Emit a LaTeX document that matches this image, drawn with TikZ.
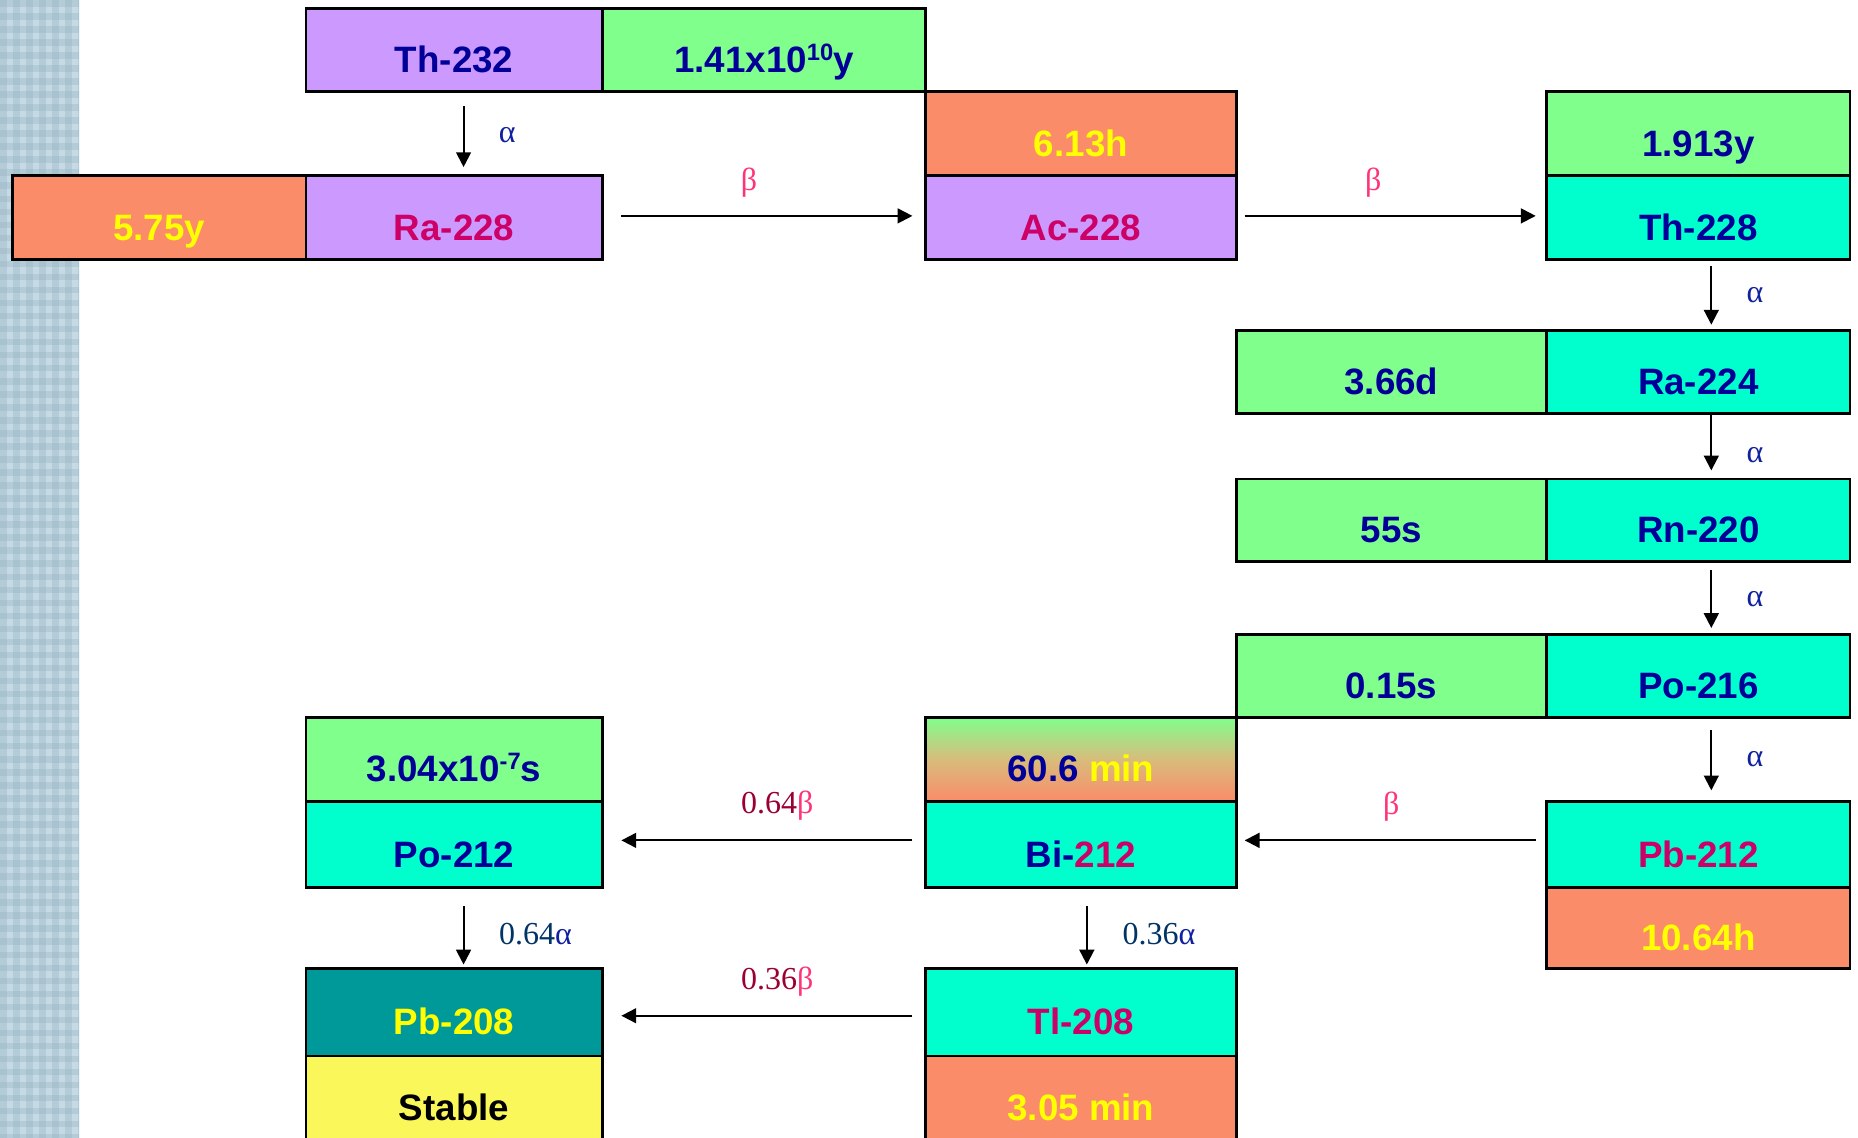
\documentclass[tikz,border=0pt]{standalone}
\usepackage{fontspec}
\setmainfont{Liberation Sans}
\newfontfamily\lblfont{Liberation Serif}
\usetikzlibrary{arrows.meta}
\definecolor{cpurple}{HTML}{CC99FF}
\definecolor{cgreen}{HTML}{80FF8C}
\definecolor{csalmon}{HTML}{FA8C69}
\definecolor{cmid}{HTML}{D8BC7C}
\definecolor{ccyan}{HTML}{00FFCC}
\definecolor{cteal}{HTML}{009999}
\definecolor{cyel}{HTML}{FAF75A}
\definecolor{tnavy}{HTML}{000099}
\definecolor{tred}{HTML}{CC0066}
\definecolor{tyel}{HTML}{FFFF00}
\definecolor{lpink}{HTML}{FF3377}
\definecolor{lmaroon}{HTML}{990033}
\definecolor{lblue}{HTML}{003366}
\definecolor{lalpha}{HTML}{1020A0}
\definecolor{bgA}{HTML}{C6DAE5}
\definecolor{bgB}{HTML}{9AB6C6}
\newcommand\supx[1]{\raisebox{10pt}{\fontsize{20}{20}\selectfont #1}}
\begin{document}
\begin{tikzpicture}[x=1pt,y=-1pt,
  box/.style={draw=black, line width=2.4pt, anchor=north west, inner sep=0pt,
    text height=40pt, text depth=2pt, font=\fontsize{31}{31}\selectfont\bfseries, text=tnavy},
  lastbox/.style={box, minimum height=80pt, text height=30pt, text depth=2pt},
  lbl/.style={font=\lblfont\fontsize{27}{27}\selectfont, inner sep=0pt},
  arr/.style={line width=1.7pt, -{Triangle[length=12.5pt,width=12.5pt]}}]
\useasboundingbox (0,0) rectangle (1568,960);
% background strip
\begin{scope}
  \clip (0,0) rectangle (67,960);
  \fill[bgA] (0,0) rectangle (67,960);
  \foreach \i in {0,...,6} \fill[bgB, opacity=0.4] (\i*11,0) rectangle ++(5.5,960);
  \foreach \j in {0,...,87} \fill[bgB, opacity=0.4] (0,\j*11) rectangle ++(67,5.5);
\end{scope}
% boxes
\node[box, fill=cpurple, minimum width=250pt, minimum height=70pt] (th232) at (257,6) {Th-232};
\node[box, fill=cgreen, minimum width=273pt, minimum height=70pt] (th232t) at (507,6) {1.41x10\supx{10}y};
\node[box, fill=csalmon, text=tyel, minimum width=262pt, minimum height=71pt] (ac228t) at (780,76) {6.13h};
\node[box, fill=cpurple, text=tred, minimum width=262pt, minimum height=71pt] (ac228) at (780,147) {Ac-228};
\node[box, fill=csalmon, text=tyel, minimum width=248pt, minimum height=71pt] (ra228t) at (9,147) {5.75y};
\node[box, fill=cpurple, text=tred, minimum width=250pt, minimum height=71pt] (ra228) at (257,147) {Ra-228};
\node[box, fill=cgreen, minimum width=256pt, minimum height=71pt] (th228t) at (1304,76) {1.913y};
\node[box, fill=ccyan, minimum width=256pt, minimum height=71pt] (th228) at (1304,147) {Th-228};
\node[box, fill=cgreen, minimum width=262pt, minimum height=70pt] (ra224t) at (1042,278) {3.66d};
\node[box, fill=ccyan, minimum width=256pt, minimum height=70pt] (ra224) at (1304,278) {Ra-224};
\node[box, fill=cgreen, minimum width=262pt, minimum height=70pt] (rn220t) at (1042,403) {55s};
\node[box, fill=ccyan, minimum width=256pt, minimum height=70pt] (rn220) at (1304,403) {Rn-220};
\node[box, fill=cgreen, minimum width=262pt, minimum height=70pt] (po216t) at (1042,534) {0.15s};
\node[box, fill=ccyan, minimum width=256pt, minimum height=70pt] (po216) at (1304,534) {Po-216};
\node[box, fill=ccyan, text=tred, minimum width=256pt, minimum height=73pt] (pb212) at (1304,675) {Pb-212};
\node[box, fill=csalmon, text=tyel, minimum width=256pt, minimum height=68pt] (pb212t) at (1304,748) {10.64h};
\node[box, top color=cgreen, bottom color=csalmon, middle color=cmid, minimum width=262pt, minimum height=71pt] (bi212t) at (780,604) {60.6 \textcolor{tyel}{min}};
\node[box, fill=ccyan, minimum width=262pt, minimum height=73pt] (bi212) at (780,675) {Bi-\textcolor{tred}{212}};
\node[box, fill=cgreen, minimum width=250pt, minimum height=71pt] (po212t) at (257,604) {3.04x10\supx{-7}s};
\node[box, fill=ccyan, minimum width=250pt, minimum height=73pt] (po212) at (257,675) {Po-212};
\node[box, fill=cteal, text=tyel, minimum width=250pt, minimum height=74pt] (pb208) at (257,816) {Pb-208};
\node[lastbox, fill=cyel, text=black, minimum width=250pt] (pb208t) at (257,890) {Stable};
\node[box, fill=ccyan, text=tred, minimum width=262pt, minimum height=74pt] (tl208) at (780,816) {Tl-208};
\node[lastbox, fill=csalmon, text=tyel, minimum width=262pt] (tl208t) at (780,890) {3.05 min};
% arrows
\draw[arr, shorten <=11pt, shorten >=6pt] ([xshift=8pt]th232.south) -- ([xshift=8pt]ra228.north);
\draw[arr, shorten <=15pt, shorten >=10pt] ([yshift=1.5pt]ra228.east) -- ([yshift=1.5pt]ac228.west);
\draw[arr, shorten <=6pt, shorten >=8pt] ([yshift=1.5pt]ac228.east) -- ([yshift=1.5pt]th228.west);
\draw[arr, shorten <=4pt, shorten >=4pt] ([xshift=11pt]th228.south) -- ([xshift=11pt]ra224.north);
\draw[arr, shorten <=-3pt, shorten >=6pt] ([xshift=11pt]ra224.south) -- ([xshift=11pt]rn220.north);
\draw[arr, shorten <=6pt, shorten >=4pt] ([xshift=11pt]rn220.south) -- ([xshift=11pt]po216.north);
\draw[arr, shorten <=10pt, shorten >=8pt] ([xshift=11pt]po216.south) -- ([xshift=11pt]pb212.north);
\draw[arr, shorten <=8pt, shorten >=6pt] ([yshift=3.5pt]pb212.west) -- ([yshift=3.5pt]bi212.east);
\draw[arr, shorten <=10pt, shorten >=15pt] ([yshift=3.5pt]bi212.west) -- ([yshift=3.5pt]po212.east);
\draw[arr, shorten <=14pt, shorten >=2pt] ([xshift=5pt]bi212.south) -- ([xshift=5pt]tl208.north);
\draw[arr, shorten <=14pt, shorten >=2pt] ([xshift=8pt]po212.south) -- ([xshift=8pt]pb208.north);
\draw[arr, shorten <=10pt, shorten >=15pt] ([yshift=-3pt]tl208.west) -- ([yshift=-3pt]pb208.east);
% labels
\node[lbl, text=lalpha] (la1) at (428,114) {α};
\node[lbl, text=lpink] (lb1) at (632,154) {β};
\node[lbl, text=lpink] (lb2) at (1159,154) {β};
\node[lbl, text=lalpha] (la2) at (1481,249) {α};
\node[lbl, text=lalpha] (la3) at (1481,384) {α};
\node[lbl, text=lalpha] (la4) at (1481,506) {α};
\node[lbl, text=lalpha] (la5) at (1481,641) {α};
\node[lbl, text=lpink] (lb3) at (1174,681) {β};
\node[lbl, text=lpink] (lb4) at (656,680) {\textcolor{lmaroon}{0.64}β};
\node[lbl, text=lpink] (lb5) at (656,828) {\textcolor{lmaroon}{0.36}β};
\node[lbl, text=lalpha] (la6) at (452,788) {\textcolor{lblue}{0.64}α};
\node[lbl, text=lalpha] (la7) at (978,788) {\textcolor{lblue}{0.36}α};
\end{tikzpicture}
\end{document}
